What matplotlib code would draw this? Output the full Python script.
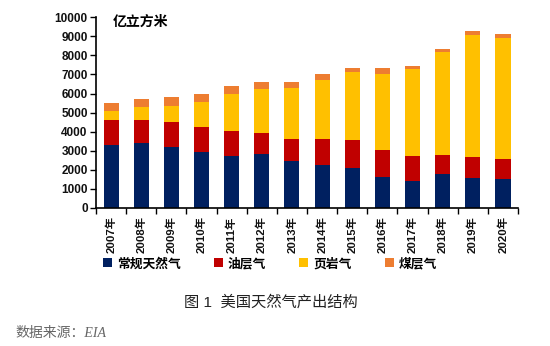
import matplotlib
matplotlib.use("Agg")

import matplotlib.pyplot as plt
from matplotlib.patches import Patch
import numpy as np

plt.rcParams['font.family'] = ['Liberation Sans', 'Noto Sans CJK SC', 'DejaVu Sans']

# data (亿立方米)
years = ['2007年', '2008年', '2009年', '2010年', '2011年', '2012年', '2013年',
         '2014年', '2015年', '2016年', '2017年', '2018年', '2019年', '2020年']
conventional = [3316, 3403, 3194, 2949, 2723, 2810, 2443, 2269, 2112, 1640, 1431, 1798, 1588, 1518]
oil_layer = [1309, 1222, 1326, 1309, 1326, 1117, 1152, 1326, 1431, 1397, 1274, 959, 1065, 1047]
shale = [471, 645, 838, 1309, 1920, 2321, 2705, 3124, 3612, 4014, 4590, 5411, 6405, 6370]
coalbed = [401, 454, 471, 436, 436, 384, 332, 314, 175, 279, 174, 174, 226, 175]

series = [conventional, oil_layer, shale, coalbed]
names = ['常规天然气', '油层气', '页岩气', '煤层气']
colors = ['#002060', '#C00000', '#FFC000', '#ED7D31']

fig = plt.figure(figsize=(5.5, 3.46), dpi=100)
ax = fig.add_axes([0.1745, 0.399, 0.7675, 0.551])

x = np.arange(len(years))
bottom = np.zeros(len(years))
for vals, name, c in zip(series, names, colors):
    ax.bar(x, vals, width=0.5, bottom=bottom, color=c, label=name, zorder=2)
    bottom += np.array(vals)

ax.set_xlim(-0.5, len(years) - 0.5)
ax.set_ylim(0, 10000)
ax.set_yticks(np.arange(0, 10001, 1000))
ax.tick_params(axis='y', labelsize=8.5, length=4, width=1, pad=2)
for t in ax.get_yticklabels():
    t.set_fontweight('bold')
    t.set_color('#111111')

ax.set_xticks(x)
ax.set_xticklabels(years, rotation=90, fontsize=8.2, fontweight='bold', color='#111111')
ax.tick_params(axis='x', which='major', length=0, pad=6)
ax.set_xticks(np.arange(-0.5, len(years), 1), minor=True)
ax.tick_params(axis='x', which='minor', length=4, width=1)

for s in ['top', 'right']:
    ax.spines[s].set_visible(False)
for s in ['left', 'bottom']:
    ax.spines[s].set_linewidth(1.2)
    ax.spines[s].set_color('black')

fig.text(113 / 550, 1 - 22 / 346, '亿立方米', fontsize=10, fontweight='bold', va='center', ha='left')

handles = [Patch(facecolor=c, edgecolor='none') for c in colors]
fig.legend(handles, names, loc='center', bbox_to_anchor=(270 / 550, 1 - 264 / 346), ncol=4,
           frameon=False, handlelength=0.7, handleheight=0.7, handletextpad=0.4,
           columnspacing=2.6, prop={'size': 9.2, 'weight': 'bold'})

fig.text(271 / 550, 1 - 302 / 346, '图 1  美国天然气产出结构', fontsize=11, ha='center', va='center', color='#222222')
fig.text(15 / 550, 1 - 333 / 346, '数据来源：EIA', fontsize=10, style='italic', ha='left', va='center',
         color='#666666', family=['Liberation Serif', 'Noto Sans CJK SC'])

fig.savefig('out.png', dpi=100)
